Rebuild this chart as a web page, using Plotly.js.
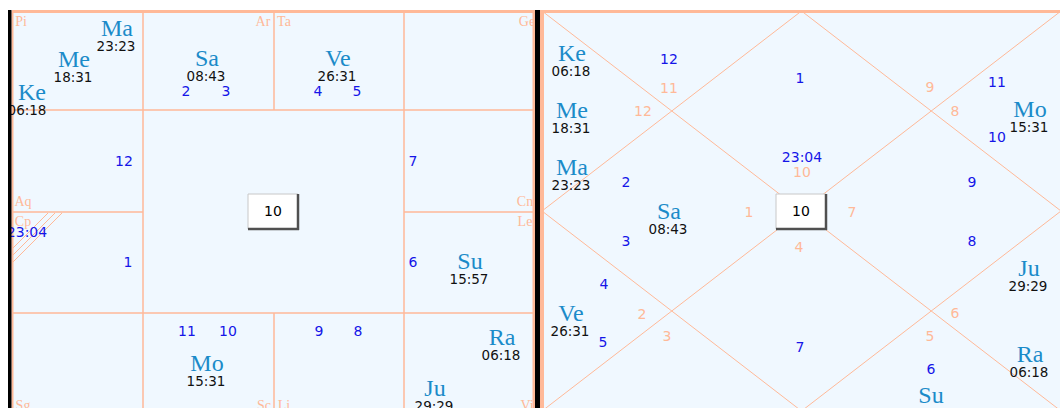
<!DOCTYPE html>
<html><head><meta charset="utf-8">
<script src="https://cdn.plot.ly/plotly-3.0.1.min.js"></script>
<style>html,body{margin:0;padding:0;background:#fff;}#chart{width:1060px;height:408px;}</style>
</head><body><div id="chart"></div>
<script>
// ---- data ----
const planets = ['Ma','Me','Ke','Sa','Ve','Su','Mo','Ra','Ju'];
const degrees = ['23:23','18:31','06:18','08:43','26:31','15:57','15:31','06:18','29:29'];
const lagnaDegree = '23:04';
const centerLabel = '10';
const signLabels = ['Pi','Ar','Ta','Ge','Aq','Cp','Cn','Le','Sg','Sc','Li','Vi'];
const southHouseNums = ['2','3','4','5','12','1','7','6','11','10','9','8'];
const northHouseNums = ['12','1','11','10','9','8','2','3','4','5','7','6'];
const northSignNums = ['11','12','9','8','10','1','7','4','2','3','6','5'];

// ---- placement (layout) ----
const southPlanetPos = {Ma:[117,30],Me:[74,61],Ke:[32,94],Sa:[207,60],Ve:[338,60],Su:[470,263],Mo:[207,365],Ra:[502,339],Ju:[435,390]};
const southDegShift = {Ke:-4};
const northPlanetPos = {Ke:[572,55],Me:[572,112],Ma:[572,169],Sa:[669,213],Ve:[571,315],Mo:[1030,111],Ju:[1029,270],Ra:[1030,356],Su:[931,397]};
const signPos = [[21,22],[263,22],[284,22],[527,22],[23,202],[23,222],[525,202],[525,222],[23,406],[264,406],[284,406],[527,406]];
const southNumPos = [[186,92],[226,92],[318,92],[357,92],[124,162],[128,263],[413,162],[413,263],[187,332],[228,332],[319,332],[358,332]];
const northNumPos = [[669,60],[800,79],[997,83],[997,138],[972,183],[972,242],[626,183],[626,242],[604,285],[603,343],[800,348],[931,370]];
const northSignPos = [[669,89],[643,112],[930,88],[955,112],[802,173],[749,213],[852,213],[799,248],[642,315],[667,337],[955,314],[930,337]];

const SALMON = '#ffb998', BG = '#f0f8ff', PBLUE = '#1b8bc9', NBLUE = '#1515e8';
const traces = [];
function txt(xs, ys, texts, font, color, size){
  traces.push({type:'scatter', mode:'text', x:xs, y:ys, text:texts, textposition:'middle center',
    textfont:{family:font, size:size, color:color}, hoverinfo:'skip', showlegend:false, cliponaxis:true});
}
// planet names & degrees (south + north)
const pnX=[],pnY=[],pn=[],dgX=[],dgY=[],dg=[];
planets.forEach((p,i)=>{
  const s = southPlanetPos[p], n = northPlanetPos[p];
  pnX.push(s[0]); pnY.push(s[1]); pn.push(p);
  dgX.push(s[0]-1+(southDegShift[p]||0)); dgY.push(s[1]+18); dg.push(degrees[i]);
  pnX.push(n[0]); pnY.push(n[1]); pn.push(p);
  dgX.push(n[0]-1); dgY.push(n[1]+18); dg.push(degrees[i]);
});
txt(pnX,pnY,pn,'Liberation Serif',PBLUE,24);
txt(dgX,dgY,dg,'DejaVu Sans','#111',13.5);
// house numbers
txt(southNumPos.map(p=>p[0]).concat(northNumPos.map(p=>p[0]),[27,802]),
    southNumPos.map(p=>p[1]).concat(northNumPos.map(p=>p[1]),[233,158]),
    southHouseNums.concat(northHouseNums,[lagnaDegree,lagnaDegree]),'DejaVu Sans',NBLUE,14);
// sign numbers north
txt(northSignPos.map(p=>p[0]),northSignPos.map(p=>p[1]),northSignNums,'DejaVu Sans',SALMON,14);
// sign labels south
txt(signPos.map(p=>p[0]),signPos.map(p=>p[1]),signLabels,'Liberation Serif',SALMON,14);
// center labels
txt([273,801],[212,212],[centerLabel,centerLabel],'DejaVu Sans','#000',14);

const shapes = [];
function rect(x0,y0,x1,y1,fill,layer,line){shapes.push({type:'rect',x0,y0,x1,y1,fillcolor:fill,line:line||{width:0},layer:layer||'below'});}
function line(x0,y0,x1,y1,color,w,layer){shapes.push({type:'line',x0,y0,x1,y1,line:{color:color,width:w},layer:layer||'below'});}
// backgrounds
rect(11,10,536,420,BG);
rect(540,10,1065,420,BG);
// south grid
line(12,11.5,534,11.5,SALMON,3);
line(12.5,11,12.5,420,SALMON,2);
line(533.5,11,533.5,420,SALMON,2);
[143,404].forEach(x=>line(x,11,x,415,SALMON,1.5));
line(274,11,274,110,SALMON,1.5); line(274,313,274,415,SALMON,1.5);
[110,313].forEach(y=>line(12,y,534,y,SALMON,1.5));
line(12,212,143,212,SALMON,1.5); line(404,212,534,212,SALMON,1.5);
line(12,415,534,415,SALMON,1.5);
// hatch in Cp
line(13,262,62,213,SALMON,1); line(13,255,55,213,SALMON,1); line(13,248,48,213,SALMON,1);
// north chart
const nx0=542,nx1=1061,ny0=11,ny1=411,nxm=(nx0+nx1)/2,nym=(ny0+ny1)/2;
line(nx0,11.5,1065,11.5,SALMON,3);
line(542.5,11,542.5,420,SALMON,3);
line(nx0,ny0,nx1,ny1,SALMON,1); line(nx1,ny0,nx0,ny1,SALMON,1);
line(nx0,nym,nxm,ny0,SALMON,1); line(nxm,ny0,nx1,nym,SALMON,1);
line(nx1,nym,nxm,ny1,SALMON,1); line(nxm,ny1,nx0,nym,SALMON,1);
// center buttons
[[248,298],[776,826]].forEach(b=>{
  rect(b[0],194,b[1],229,'#ffffff','below',{color:'#c8c8c8',width:1});
  line(b[0],229,b[1]+1,229,'#505050',2.5);
  line(b[1],194,b[1],230,'#505050',2.5);
});
// outer white & black borders (above, to clip text)
rect(0,0,8,408,'#ffffff','above');
rect(8,10,11.5,408,'#000000','above');
rect(535,10,540,408,'#000000','above');
rect(540,10,542,408,SALMON,'above');
rect(533,10,535,408,SALMON,'above');
rect(0,0,1060,10,'#ffffff','above');

const layout = {
  width:1060, height:408, margin:{l:0,r:0,t:0,b:0},
  paper_bgcolor:'#ffffff', plot_bgcolor:'#ffffff',
  xaxis:{range:[0,1060], visible:false, fixedrange:true},
  yaxis:{range:[408,0], visible:false, fixedrange:true},
  shapes:shapes, showlegend:false
};
Plotly.newPlot('chart', traces, layout, {staticPlot:true, displayModeBar:false});
</script></body></html>
